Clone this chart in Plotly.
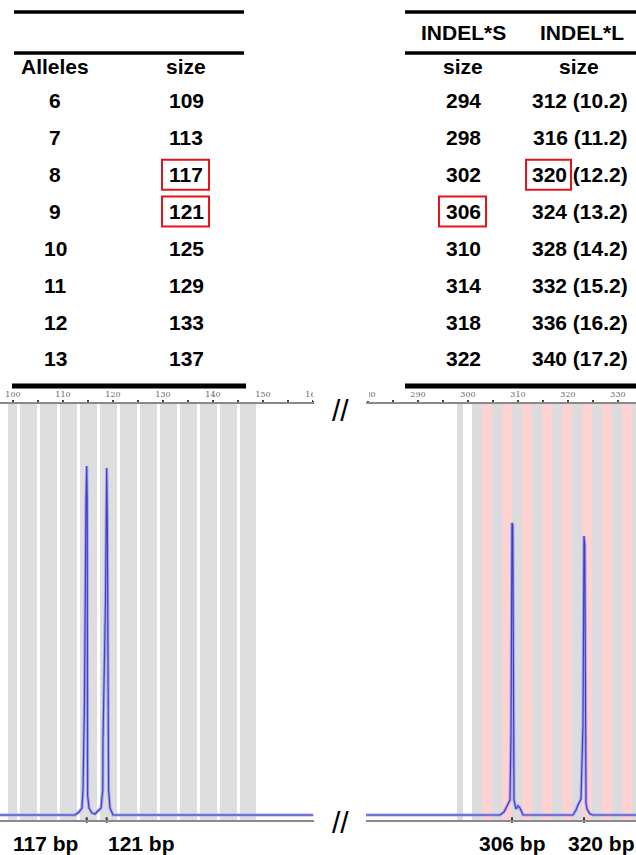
import plotly.graph_objects as go

W, H = 636, 855

# ---------------- data ----------------
alleles = ["6", "7", "8", "9", "10", "11", "12", "13"]
allele_sizes = [109, 113, 117, 121, 125, 129, 133, 137]
indel_s_sizes = [294, 298, 302, 306, 310, 314, 318, 322]
indel_l_sizes = [312, 316, 320, 324, 328, 332, 336, 340]
indel_l_repeats = ["10.2", "11.2", "12.2", "13.2", "14.2", "15.2", "16.2", "17.2"]
left_highlight = [117, 121]
s_highlight = [306]
l_highlight = [320]
peak_labels = ["117 bp", "121 bp", "306 bp", "320 bp"]

left_tick_vals = [100, 110, 120, 130, 140, 150, 160]
right_tick_vals = [280, 290, 300, 310, 320, 330]

left_bin_start = [99.0, 101.4, 105.4, 109.4, 113.4, 117.4, 121.4, 125.4, 129.4, 133.4, 137.4, 141.4, 145.4]
left_bin_end = [100.8, 104.8, 108.8, 112.8, 116.8, 120.8, 124.8, 128.8, 132.8, 136.8, 140.8, 144.8, 148.6]
right_gray_start = [297.8, 300.8, 304.8, 308.8, 312.8, 316.8, 320.8, 324.8, 328.8, 332.8]
right_gray_end = [299.0, 302.8, 306.8, 310.8, 314.8, 318.8, 322.8, 326.8, 330.8, 333.6]
right_pink_start = [302.8, 306.8, 310.8, 314.8, 318.8, 322.8, 326.8, 330.8]
right_pink_end = [304.8, 308.8, 312.8, 316.8, 320.8, 324.8, 328.8, 332.8]

left_bp = [97.4, 112.4, 113.2, 113.8, 114.0, 114.3, 114.6, 114.74, 114.84, 114.88, 114.92, 115.2,
           115.8, 116.4, 117.0, 117.6, 117.96, 118.0, 118.5, 118.74, 118.86, 119.0, 119.12, 119.4,
           120.0, 160.1]
left_rfu = [0, 0, 30, 70, 250, 1150, 3150, 3490, 3150, 1150, 200, 70,
            20, 10, 40, 70, 250, 750, 2150, 3470, 2950, 1150, 250, 70,
            0, 0]
right_bp = [279.6, 306.4, 307.2, 308.0, 308.4, 308.6, 308.8, 308.96, 309.06, 309.2, 309.6, 310.0,
            310.4, 311.0, 321.0, 321.6, 322.0, 322.6, 323.0, 323.2, 323.36, 323.46, 323.6, 323.8,
            324.4, 325.0, 333.6]
right_rfu = [0, 0, 30, 100, 150, 800, 2920, 2900, 1000, 150, 60, 90,
             70, 0, 0, 50, 100, 160, 900, 2790, 2700, 700, 120, 60,
             10, 0, 0]
left_peak_bp = [114.74, 118.74]
right_peak_bp = [308.8, 323.2]


def px(x):
    return x / W


def py(y):
    return 1 - y / H


BOLD = dict(family="Liberation Sans, Arial, sans-serif", size=21, color="black")

fig = go.Figure()
for xs, ys, ax in [(left_bp, left_rfu, "x"), (right_bp, right_rfu, "x2")]:
    fig.add_trace(go.Scatter(x=xs, y=ys, xaxis=ax, yaxis="y", mode="lines",
                             line=dict(color="#a8a8ee", width=3.2), hoverinfo="skip", showlegend=False))
    fig.add_trace(go.Scatter(x=xs, y=ys, xaxis=ax, yaxis="y", mode="lines",
                             line=dict(color="#3f3fc8", width=1.2), hoverinfo="skip", showlegend=False))
for pk, ax in [(left_peak_bp, "x"), (right_peak_bp, "x2")]:
    fig.add_trace(go.Scatter(x=pk, y=[-50] * len(pk), xaxis=ax, yaxis="y", mode="markers",
                             marker=dict(symbol="line-ns", size=4, line=dict(color="#333", width=2)),
                             cliponaxis=False, hoverinfo="skip", showlegend=False))

shapes = []
for s, e in zip(left_bin_start, left_bin_end):
    shapes.append(dict(type="rect", xref="x", yref="y domain", x0=s, x1=e, y0=0, y1=1,
                       fillcolor="#dedede", line=dict(width=0), layer="below"))
for s, e in zip(right_gray_start, right_gray_end):
    shapes.append(dict(type="rect", xref="x2", yref="y domain", x0=s, x1=e, y0=0, y1=1,
                       fillcolor="#dcdcde", line=dict(width=0), layer="below"))
for s, e in zip(right_pink_start, right_pink_end):
    shapes.append(dict(type="rect", xref="x2", yref="y domain", x0=s, x1=e, y0=0, y1=1,
                       fillcolor="#ffd2d2", line=dict(width=0), layer="below"))


def hline(x0, x1, y, w):
    shapes.append(dict(type="line", xref="paper", yref="paper", x0=px(x0), x1=px(x1),
                       y0=py(y), y1=py(y), line=dict(color="black", width=w)))


hline(14, 244, 12, 3.5)
hline(14, 244, 53, 3.5)
hline(12, 246, 386, 5)
hline(405, 636, 12, 3.5)
hline(405, 636, 53, 3.5)
hline(405, 636, 386, 5)

shapes.append(dict(type="rect", xref="paper", yref="paper", x0=px(313), x1=px(369),
                   y0=py(401), y1=py(387), fillcolor="white", line=dict(width=0), layer="above"))

annotations = []


def text(t, x, y, font=BOLD):
    annotations.append(dict(text=t, x=px(x), y=py(y), xref="paper", yref="paper",
                            showarrow=False, xanchor="center", yanchor="middle", font=font))


def box(x0, x1, y0, y1):
    shapes.append(dict(type="rect", xref="paper", yref="paper", x0=px(x0), x1=px(x1),
                       y0=py(y1), y1=py(y0), line=dict(color="#e5141b", width=2)))


text("<b>Alleles</b>", 55, 66)
text("<b>size</b>", 186, 66)
text("<b>INDEL*S</b>", 464, 32)
text("<b>INDEL*L</b>", 582, 32)
text("<b>size</b>", 463, 66)
text("<b>size</b>", 579, 66)

for i in range(len(alleles)):
    yy = 101 + 36.85 * i
    text(f"<b>{alleles[i]}</b>", 55, yy)
    text(f"<b>{allele_sizes[i]}</b>", 186, yy)
    text(f"<b>{indel_s_sizes[i]}</b>", 463, yy)
    text(f"<b>{indel_l_sizes[i]} ({indel_l_repeats[i]})</b>", 580, yy)
    if allele_sizes[i] in left_highlight:
        box(162, 209, yy - 15, yy + 15)
    if indel_s_sizes[i] in s_highlight:
        box(439, 486, yy - 15, yy + 15)
    if indel_l_sizes[i] in l_highlight:
        box(526, 571, yy - 15, yy + 15)

for lab, xx in zip(peak_labels, [45, 141, 512, 601]):
    text(f"<b>{lab}</b>", xx, 843)

slash_font = dict(family="Liberation Sans, Arial, sans-serif", size=30, color="black")
text("//", 340, 410, slash_font)
text("//", 340, 822, slash_font)

axis_common = dict(side="top", anchor="y", showline=True, linecolor="#8a8a8a", linewidth=1.5,
                   mirror=True, ticks="outside", ticklen=2, tickwidth=2, tickcolor="#444",
                   showgrid=False, zeroline=False, automargin=False,
                   tickfont=dict(family="DejaVu Serif, serif", size=8, color="#666"),
                   minor=dict(dtick=5, ticks="outside", ticklen=2, tickwidth=2, tickcolor="#444",
                              showgrid=False))

fig.update_layout(
    width=W, height=H, autosize=False,
    margin=dict(l=0, r=0, t=0, b=0, pad=0, autoexpand=False),
    paper_bgcolor="white", plot_bgcolor="white",
    showlegend=False,
    xaxis=dict(domain=[0, px(313.5)], range=[97.4, 160.1], tickvals=left_tick_vals, **axis_common),
    xaxis2=dict(domain=[px(366), 1], range=[279.6, 333.6], tickvals=right_tick_vals, **axis_common),
    yaxis=dict(domain=[py(820), py(404)], range=[-50, 4110], visible=False, fixedrange=True,
               automargin=False),
    shapes=shapes,
    annotations=annotations,
)

page_fix = ("document.body.style.margin='0';document.body.style.padding='0';"
            "document.documentElement.style.overflow='hidden';document.body.style.overflow='hidden';")
fig.write_html("out.html", post_script=page_fix,
               config={"displayModeBar": False, "responsive": False})
